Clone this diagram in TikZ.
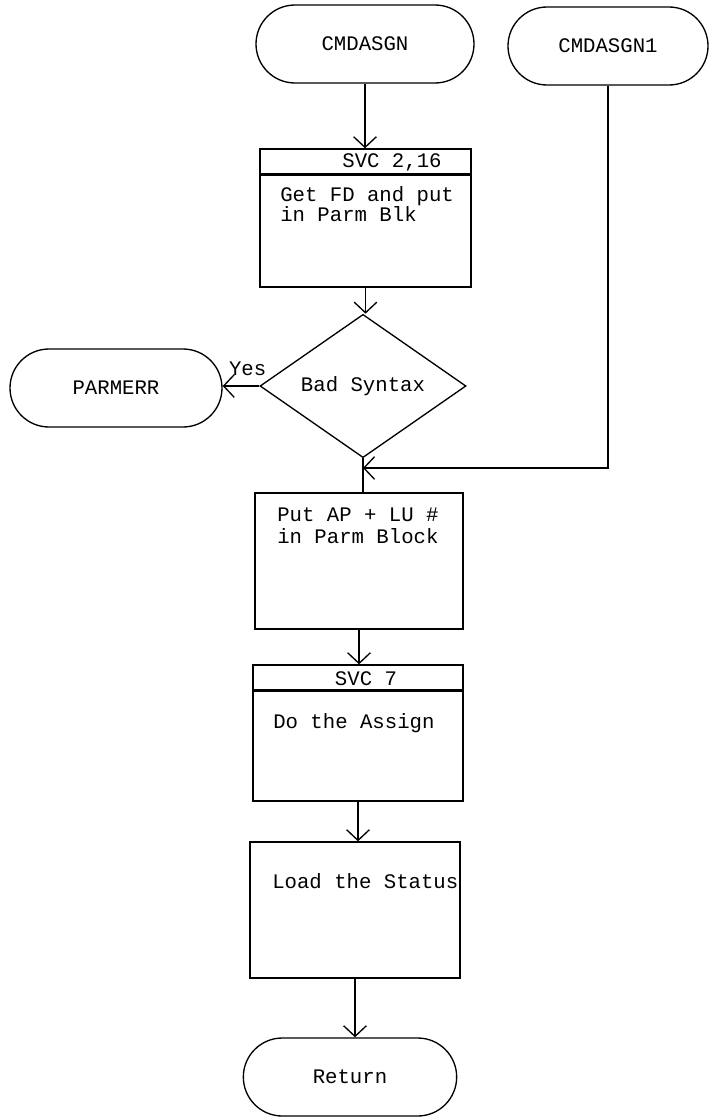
\documentclass[tikz,border=0pt]{standalone}
\usepackage{fontspec}
\setmonofont{Liberation Mono}
\usetikzlibrary{shapes.geometric,shapes.misc,arrows.meta,positioning}

\tikzset{
  term/.style={rounded rectangle, draw, line width=1pt, minimum height=58.5pt, inner sep=0pt},
  procbox/.style={draw, line width=1pt, inner sep=0pt},
  headbox/.style={draw, line width=1pt, inner sep=0pt, minimum height=18.5pt},
  txt/.style={inner sep=0pt, align=left},
  flow/.style={line width=1pt, -{Straight Barb[length=8pt,width=17pt]}},
}

\begin{document}
\begin{tikzpicture}[x=0.75pt, y=0.75pt, font=\ttfamily\fontsize{15.5}{13}\selectfont]
  \useasboundingbox (0,0) rectangle (709,-1117);
  % einstiege
  \node[term, minimum width=163.5pt] (start) at (365,-44) {CMDASGN};
  \node[term, minimum width=150pt] (start1) at (608,-46) {CMDASGN1};
  % svc 2,16
  \node[procbox, minimum width=158.25pt, minimum height=84pt] (svcA) at (365.5,-231) {};
  \node[headbox, minimum width=158.25pt, above=0pt of svcA] (svcAhead) {};
  \node[txt] (svcAlbl) at (392,-162) {SVC 2,16};
  \node[txt, anchor=north west, font=\ttfamily\fontsize{15.5}{12.75}\selectfont] (svcAtxt) at (280,-186)
    {Get FD and put\\in Parm Blk};
  % entscheidung
  \node[diamond, draw, line width=1pt, inner sep=0pt, minimum width=154.5pt, minimum height=102pt] (dec) at (363,-386) {Bad Syntax};
  \node[term, minimum width=159pt] (parm) at (116,-388) {PARMERR};
  % parm block
  \node[procbox, minimum width=156pt, minimum height=102pt] (put) at (359,-561) {};
  \node[txt, anchor=north west, font=\ttfamily\fontsize{15.5}{16.5}\selectfont] (puttxt) at (277,-507)
    {Put AP + LU \#\\in Parm Block};
  % svc 7
  \node[procbox, minimum width=157.5pt, minimum height=82.5pt] (svcB) at (358,-746) {};
  \node[headbox, minimum width=157.5pt, above=0pt of svcB] (svcBhead) {};
  \node[txt] (svcBlbl) at (366,-679) {SVC 7};
  \node[txt, anchor=north west] (svcBtxt) at (273,-713) {Do the Assign};
  % status
  \node[procbox, minimum width=157.5pt, minimum height=102pt] (load) at (355,-910) {};
  \node[txt, anchor=north west] (loadtxt) at (272,-873) {Load the Status};
  \node[term, minimum width=160pt] (ret) at (350,-1077) {Return};
  % verbindungen
  \coordinate (merge) at (dec.south |- 0,-468);
  \draw[flow] (start.south) -- (start.south |- svcAhead.north);
  \draw[flow] (svcA.south) -- (svcA.south |- dec.north);
  \draw[flow] (dec.west) -- node[above, inner sep=7pt, xshift=5pt] (yes) {Yes} (dec.west -| parm.east);
  \draw[line width=1pt] (dec.south) -- (dec.south |- put.north);
  \draw[flow] (start1.south) |- (merge);
  \draw[flow] (put.south) -- (put.south |- svcBhead.north);
  \draw[flow] (svcB.south) -- (svcB.south |- load.north);
  \draw[flow] (load.south) -- (load.south |- ret.north);
\end{tikzpicture}
\end{document}
